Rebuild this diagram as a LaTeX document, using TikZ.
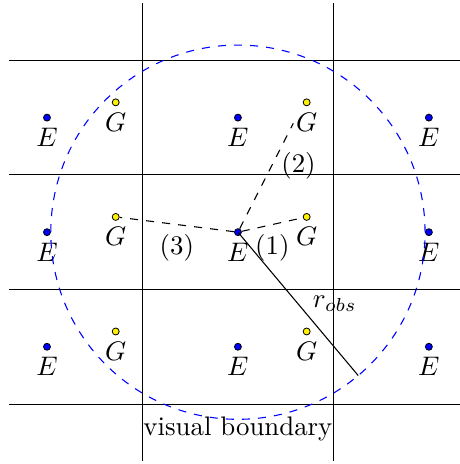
\documentclass[tikz,border=0pt]{standalone}
\usepackage{tikz}
\usetikzlibrary{positioning}

\begin{document}
\begin{tikzpicture}[scale=0.5,
    edot/.style={circle,draw=black,fill=blue,line width=0.3pt,inner sep=0pt,
      minimum size=2.6pt,label={[label distance=-1pt]below:$E$}},
    gdot/.style={circle,draw=black,fill=yellow,line width=0.3pt,inner sep=0pt,
      minimum size=2.6pt,label={[label distance=-1pt]below:$G$}}]
  \useasboundingbox (-6.23,-6.07) rectangle (5.79,6.08);
  % grid of cells
  \foreach \y in {-4.5,-1.5,1.5,4.5}
    \draw (-6,\y) -- (6,\y);
  \foreach \x in {-2.5,2.5}
    \draw (\x,-6) -- (\x,6);
  % E and G points
  \foreach \x/\i in {-5/l,0/c,5/r}
    \foreach \y/\j in {3/t,0/m,-3/b}
      \node[edot] (e\i\j) at (\x,\y) {};
  \foreach \x/\i in {-3.2/l,1.8/r}
    \foreach \y/\j in {3.4/t,0.4/m,-2.6/b}
      \node[gdot] (g\i\j) at (\x,\y) {};
  % visual boundary
  \draw[blue,dashed] (ecm) circle (4.9);
  \node at (0,-5.15) {visual boundary};
  % connections from the centre
  \coordinate (gtop) at (1.45,2.85);
  \coordinate (robs) at (-50:4.9);
  \draw[dashed] (ecm) -- (gtop) node[pos=0.6,right] {(2)};
  \draw[dashed] (ecm) -- (grm) node[midway,below] {(1)};
  \draw[dashed] (ecm) -- (glm) node[midway,below] {(3)};
  \draw (ecm.center) -- (robs) node[midway,right,xshift=2pt] {$r_{obs}$};
\end{tikzpicture}
\end{document}
